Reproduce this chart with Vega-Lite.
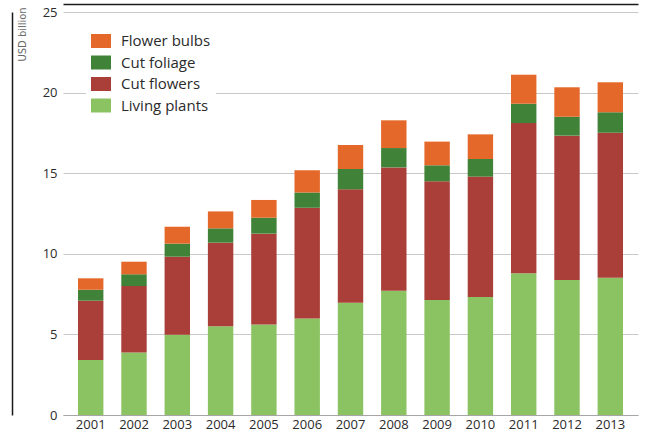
{
  "$schema": "https://vega.github.io/schema/vega-lite/v6.json",
  "autosize": {"type": "none"},
  "width": 575,
  "height": 403,
  "padding": {"left": 63, "top": 12, "right": 18, "bottom": 21},
  "background": "white",
  "config": {
    "view": {"stroke": null},
    "font": "Open Sans"
  },
  "data": {
    "values": [
      {"year": "2001", "category": "Living plants", "stackOrder": 1, "value": 3.41},
      {"year": "2001", "category": "Cut flowers", "stackOrder": 2, "value": 3.68},
      {"year": "2001", "category": "Cut foliage", "stackOrder": 3, "value": 0.68},
      {"year": "2001", "category": "Flower bulbs", "stackOrder": 4, "value": 0.71},
      {"year": "2002", "category": "Living plants", "stackOrder": 1, "value": 3.87},
      {"year": "2002", "category": "Cut flowers", "stackOrder": 2, "value": 4.13},
      {"year": "2002", "category": "Cut foliage", "stackOrder": 3, "value": 0.73},
      {"year": "2002", "category": "Flower bulbs", "stackOrder": 4, "value": 0.78},
      {"year": "2003", "category": "Living plants", "stackOrder": 1, "value": 4.98},
      {"year": "2003", "category": "Cut flowers", "stackOrder": 2, "value": 4.84},
      {"year": "2003", "category": "Cut foliage", "stackOrder": 3, "value": 0.81},
      {"year": "2003", "category": "Flower bulbs", "stackOrder": 4, "value": 1.05},
      {"year": "2004", "category": "Living plants", "stackOrder": 1, "value": 5.50},
      {"year": "2004", "category": "Cut flowers", "stackOrder": 2, "value": 5.19},
      {"year": "2004", "category": "Cut foliage", "stackOrder": 3, "value": 0.89},
      {"year": "2004", "category": "Flower bulbs", "stackOrder": 4, "value": 1.05},
      {"year": "2005", "category": "Living plants", "stackOrder": 1, "value": 5.62},
      {"year": "2005", "category": "Cut flowers", "stackOrder": 2, "value": 5.63},
      {"year": "2005", "category": "Cut foliage", "stackOrder": 3, "value": 0.99},
      {"year": "2005", "category": "Flower bulbs", "stackOrder": 4, "value": 1.10},
      {"year": "2006", "category": "Living plants", "stackOrder": 1, "value": 5.98},
      {"year": "2006", "category": "Cut flowers", "stackOrder": 2, "value": 6.88},
      {"year": "2006", "category": "Cut foliage", "stackOrder": 3, "value": 0.95},
      {"year": "2006", "category": "Flower bulbs", "stackOrder": 4, "value": 1.37},
      {"year": "2007", "category": "Living plants", "stackOrder": 1, "value": 6.97},
      {"year": "2007", "category": "Cut flowers", "stackOrder": 2, "value": 7.03},
      {"year": "2007", "category": "Cut foliage", "stackOrder": 3, "value": 1.26},
      {"year": "2007", "category": "Flower bulbs", "stackOrder": 4, "value": 1.49},
      {"year": "2008", "category": "Living plants", "stackOrder": 1, "value": 7.71},
      {"year": "2008", "category": "Cut flowers", "stackOrder": 2, "value": 7.65},
      {"year": "2008", "category": "Cut foliage", "stackOrder": 3, "value": 1.20},
      {"year": "2008", "category": "Flower bulbs", "stackOrder": 4, "value": 1.72},
      {"year": "2009", "category": "Living plants", "stackOrder": 1, "value": 7.13},
      {"year": "2009", "category": "Cut flowers", "stackOrder": 2, "value": 7.37},
      {"year": "2009", "category": "Cut foliage", "stackOrder": 3, "value": 0.99},
      {"year": "2009", "category": "Flower bulbs", "stackOrder": 4, "value": 1.47},
      {"year": "2010", "category": "Living plants", "stackOrder": 1, "value": 7.32},
      {"year": "2010", "category": "Cut flowers", "stackOrder": 2, "value": 7.47},
      {"year": "2010", "category": "Cut foliage", "stackOrder": 3, "value": 1.09},
      {"year": "2010", "category": "Flower bulbs", "stackOrder": 4, "value": 1.53},
      {"year": "2011", "category": "Living plants", "stackOrder": 1, "value": 8.79},
      {"year": "2011", "category": "Cut flowers", "stackOrder": 2, "value": 9.32},
      {"year": "2011", "category": "Cut foliage", "stackOrder": 3, "value": 1.20},
      {"year": "2011", "category": "Flower bulbs", "stackOrder": 4, "value": 1.80},
      {"year": "2012", "category": "Living plants", "stackOrder": 1, "value": 8.37},
      {"year": "2012", "category": "Cut flowers", "stackOrder": 2, "value": 8.96},
      {"year": "2012", "category": "Cut foliage", "stackOrder": 3, "value": 1.17},
      {"year": "2012", "category": "Flower bulbs", "stackOrder": 4, "value": 1.83},
      {"year": "2013", "category": "Living plants", "stackOrder": 1, "value": 8.52},
      {"year": "2013", "category": "Cut flowers", "stackOrder": 2, "value": 8.99},
      {"year": "2013", "category": "Cut foliage", "stackOrder": 3, "value": 1.27},
      {"year": "2013", "category": "Flower bulbs", "stackOrder": 4, "value": 1.86}
    ]
  },
  "resolve": {"axis": {"x": "independent", "y": "independent"}},
  "layer": [
    {
      "mark": {"type": "bar"},
      "encoding": {
        "x": {
          "field": "year", "type": "nominal",
          "scale": {"paddingInner": 0.413, "paddingOuter": 0.346},
          "axis": {
            "title": null, "labelAngle": 0, "ticks": false,
            "domainColor": "#a6a6a6", "domainWidth": 1.2,
            "labelFont": "Open Sans", "labelFontSize": 13, "labelColor": "#2b2b2b",
            "labelPadding": 3
          }
        },
        "y": {
          "field": "value", "type": "quantitative", "stack": "zero",
          "scale": {"domain": [0, 25], "nice": false},
          "axis": {
            "title": "USD billion",
            "values": [0, 5, 10, 15, 20, 25],
            "ticks": false, "domain": false,
            "gridColor": "#c8c8c8", "gridWidth": 1,
            "labelFont": "Open Sans", "labelFontSize": 13, "labelColor": "#2b2b2b",
            "labelPadding": 6,
            "titleFont": "DejaVu Sans Condensed", "titleFontSize": 11,
            "titleFontWeight": "normal", "titleColor": "#666666",
            "titleAngle": -90, "titleAlign": "right", "titleBaseline": "middle",
            "titleX": -41, "titleY": -5
          }
        },
        "order": {"field": "stackOrder", "type": "quantitative", "sort": "ascending"},
        "color": {
          "field": "category", "type": "nominal",
          "scale": {
            "domain": ["Flower bulbs", "Cut foliage", "Cut flowers", "Living plants"],
            "range": ["#e5682b", "#408238", "#aa3f3a", "#8cc362"]
          },
          "legend": {
            "title": null, "orient": "none", "legendX": 23, "legendY": 14,
            "fillColor": "white", "padding": 5,
            "symbolType": "M-1,-0.7H1V0.7H-1Z", "symbolSize": 400,
            "symbolStrokeWidth": 0, "symbolOpacity": 1,
            "labelFont": "Open Sans", "labelFontSize": 15, "labelColor": "#2b2b2b",
            "labelOffset": 10, "rowPadding": 3.5
          }
        }
      }
    },
    {
      "mark": {"type": "bar", "opacity": 0},
      "encoding": {
        "x": {
          "field": "year", "type": "nominal",
          "axis": {"orient": "top", "offset": 8, "title": null, "labels": false, "ticks": false, "grid": false, "domainColor": "#1a1a1a", "domainWidth": 1.5}
        },
        "y": {
          "field": "value", "type": "quantitative", "stack": "zero",
          "axis": {"orient": "left", "offset": 51, "title": null, "labels": false, "ticks": false, "grid": false, "domainColor": "#1a1a1a", "domainWidth": 1.5}
        }
      }
    }
  ]
}
